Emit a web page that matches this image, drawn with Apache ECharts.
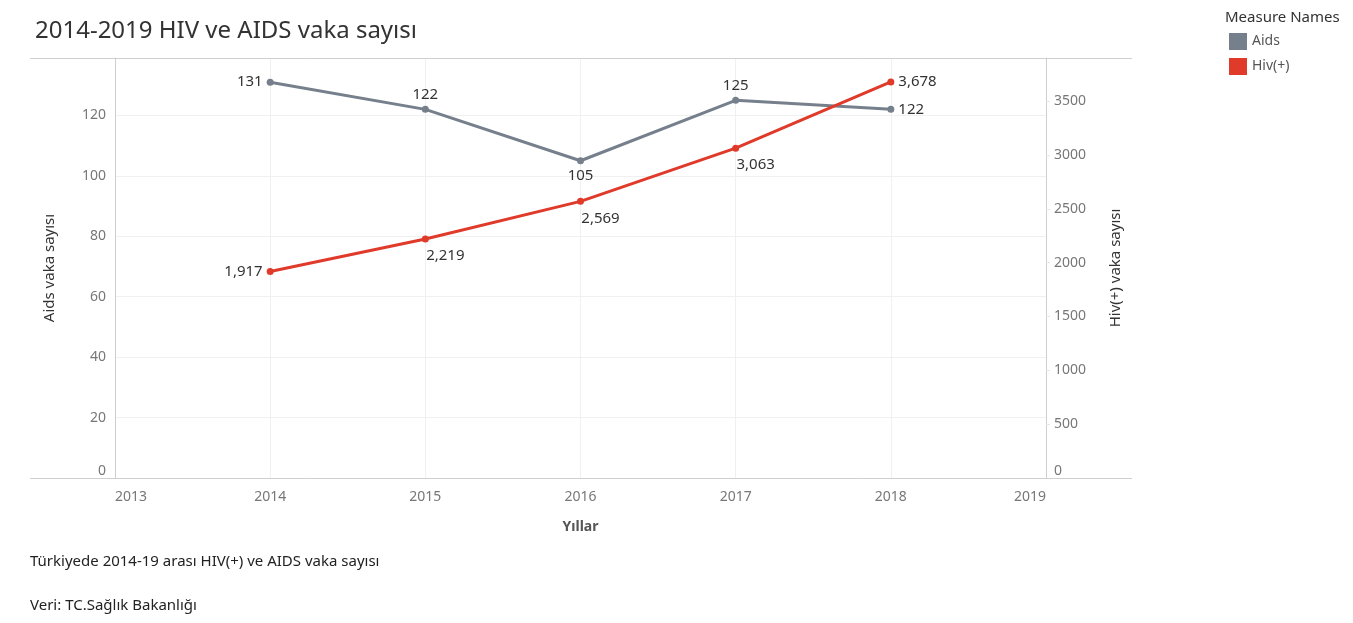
<!DOCTYPE html>
<html>
<head>
<meta charset="utf-8">
<script src="https://cdn.jsdelivr.net/npm/echarts@6/dist/echarts.min.js"></script>
<style>
html,body{margin:0;padding:0;background:#fff;}
#chart{width:1353px;height:623px;}
</style>
</head>
<body>
<div id="chart"></div>
<script>
// veriler
var years = [2014, 2015, 2016, 2017, 2018];
var aids = [131, 122, 105, 125, 122];
var hiv = [1917, 2219, 2569, 3063, 3678];
var seriesNames = ['Aids', 'Hiv(+)'];

var aidsPos = ['left', 'top', 'bottom', 'top', 'right'];
var hivPos = ['left', 'bottom', 'bottom', 'bottom', 'right'];

var font = 'Noto Sans';

function build(vals, pos, shiftBottom) {
    return vals.map(function (v, i) {
        var p = pos[i];
        var lbl = {position: p};
        if (p == 'bottom' && shiftBottom) lbl.offset = [20, 2];
        return {value: [years[i], v], label: lbl};
    });
}

option = {
    textStyle: {fontFamily: font},
    title: [{
        text: '2014-2019 HIV ve AIDS vaka sayısı',
        left: 30, top: 14,
        textStyle: {fontSize: 24, fontWeight: 'normal', color: '#333', fontFamily: font}
    }, {
        text: 'Measure Names',
        left: 1220, top: 5,
        textStyle: {fontSize: 15, fontWeight: 'normal', color: '#333', fontFamily: font}
    }, {
        text: 'Türkiyede 2014-19 arası HIV(+) ve AIDS vaka sayısı',
        left: 25, top: 549,
        textStyle: {fontSize: 15, fontWeight: 'normal', color: '#222', fontFamily: font}
    }, {
        text: 'Veri: TC.Sağlık Bakanlığı',
        left: 25, top: 593,
        textStyle: {fontSize: 15, fontWeight: 'normal', color: '#222', fontFamily: font}
    }],
    legend: {
        data: seriesNames,
        orient: 'vertical',
        left: 1224, top: 28,
        icon: 'rect',
        itemWidth: 18, itemHeight: 17,
        itemGap: 8,
        textStyle: {fontSize: 14, color: '#555', fontFamily: font}
    },
    grid: {left: 115, right: 307, top: 58, bottom: 145},
    graphic: [{
        type: 'line', shape: {x1: 30, y1: 58.5, x2: 1132, y2: 58.5},
        style: {stroke: '#cfcfcf', lineWidth: 1}, z: 1
    }, {
        type: 'line', shape: {x1: 30, y1: 478.5, x2: 1132, y2: 478.5},
        style: {stroke: '#cfcfcf', lineWidth: 1}, z: 1
    }],
    xAxis: {
        type: 'value',
        min: 2013, max: 2019, interval: 1,
        name: 'Yıllar',
        nameLocation: 'middle',
        nameGap: 42,
        nameTextStyle: {fontSize: 14, fontWeight: 'bold', color: '#555'},
        axisLine: {show: false},
        axisTick: {show: false},
        axisLabel: {
            color: '#777', fontSize: 14, margin: 12,
            alignMinLabel: 'left', alignMaxLabel: 'right',
            formatter: function (v) { return String(v); }
        },
        splitLine: {show: true, lineStyle: {color: '#f0f0f0'}}
    },
    yAxis: [{
        type: 'value',
        min: 0, max: 139, interval: 20,
        name: 'Aids vaka sayısı',
        nameLocation: 'middle',
        nameRotate: 90,
        nameGap: 58,
        nameTextStyle: {fontSize: 15, color: '#333'},
        axisLine: {show: true, lineStyle: {color: '#cfcfcf'}},
        axisTick: {show: false},
        axisLabel: {color: '#777', fontSize: 14, margin: 9, showMaxLabel: false, verticalAlignMinLabel: 'bottom'},
        splitLine: {show: true, lineStyle: {color: '#f0f0f0'}}
    }, {
        type: 'value',
        min: 0, max: 3900, interval: 500,
        name: 'Hiv(+) vaka sayısı',
        nameLocation: 'middle',
        nameRotate: 90,
        nameGap: 62,
        nameTextStyle: {fontSize: 15, color: '#333'},
        position: 'right',
        axisLine: {show: true, lineStyle: {color: '#cfcfcf'}},
        axisTick: {show: true, length: 4, lineStyle: {color: '#e6e6e6'}},
        axisLabel: {
            color: '#777', fontSize: 14, margin: 8, showMaxLabel: false, verticalAlignMinLabel: 'bottom',
            formatter: function (v) { return String(v); }
        },
        splitLine: {show: false}
    }],
    series: [{
        name: 'Aids',
        type: 'line',
        yAxisIndex: 0,
        data: build(aids, aidsPos, false),
        color: '#76808c',
        symbol: 'circle',
        symbolSize: 7,
        lineStyle: {width: 3},
        label: {
            show: true, fontSize: 15, color: '#333', distance: 4,
            formatter: function (p) { return p.value[1].toLocaleString('en-US'); }
        },
        z: 3
    }, {
        name: 'Hiv(+)',
        type: 'line',
        yAxisIndex: 1,
        data: build(hiv, hivPos, true),
        color: '#e03a2b',
        symbol: 'circle',
        symbolSize: 7,
        lineStyle: {width: 3},
        label: {
            show: true, fontSize: 15, color: '#333', distance: 4,
            formatter: function (p) { return p.value[1].toLocaleString('en-US'); }
        },
        z: 4
    }]
};

var myChart = echarts.init(document.getElementById('chart'));
myChart.setOption(option);
</script>
</body>
</html>
